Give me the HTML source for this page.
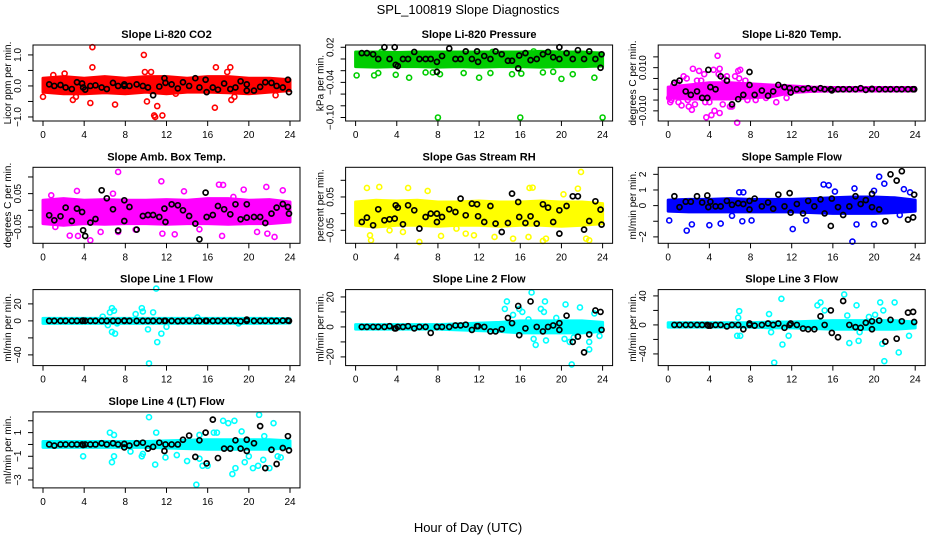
<!DOCTYPE html>
<html><head><meta charset="utf-8"><style>
body{margin:0;background:#fff}
svg{display:block;font-family:"Liberation Sans",sans-serif}
</style></head><body>
<svg id="chart" width="936" height="540" viewBox="0 0 936 540" xmlns="http://www.w3.org/2000/svg">
<rect x="0" y="0" width="936" height="540" fill="#fff"/>
<text x="468" y="14" text-anchor="middle" font-size="13">SPL_100819  Slope Diagnostics</text>
<text x="468" y="532" text-anchor="middle" font-size="13">Hour of Day (UTC)</text>
</svg>
<script>
const xTicks=[0,4,8,12,16,20,24];
const bandHours=[0,2,4,6,8,10,12,14,16,18,20,22,24];
const blackHours=[0.6,1.1,1.7,2.2,2.8,3.3,3.8,3.9,4.1,4.6,5.1,5.7,6.2,6.8,7.3,7.9,7.9,8.4,9.1,9.7,10.2,10.7,11.3,11.8,11.9,12.5,13.1,13.6,14.2,14.8,15.2,15.8,15.9,16.5,17.0,17.6,18.2,18.7,19.2,19.8,19.8,20.5,21.1,21.6,22.2,22.7,23.3,23.8,23.9];

const titles=["Slope Li-820 CO2","Slope Li-820 Pressure","Slope Li-820 Temp.","Slope Amb. Box Temp.","Slope Gas Stream RH","Slope Sample Flow","Slope Line 1 Flow","Slope Line 2 Flow","Slope Line 3 Flow","Slope Line 4 (LT) Flow"];
const yTitles=["Licor ppm per min.","kPa per min.","degrees C per min.","degrees C per min.","percent per min.","ml/min per min.","ml/min per min.","ml/min per min.","ml/min per min.","ml/min per min."];
const colors=["#ff0000","#00cd00","#ff00ff","#ff00ff","#ffff00","#0000ff","#00ffff","#00ffff","#00ffff","#00ffff"];
const yDomains=[[-1.13,1.32],[-0.106,0.0239],[-0.0147,0.0205],[-0.099,0.129],[-0.089,0.139],[-2.41,2.45],[-52.6,36.8],[-25.8,24.9],[-56.1,48.7],[-3.67,2.75]];
const yTickVals=[[-1,-0.5,0,0.5,1],[-0.1,-0.08,-0.06,-0.04,-0.02,0,0.02],[-0.01,-0.005,0,0.005,0.01,0.015],[-0.05,0,0.05,0.1],[-0.05,0,0.05,0.1],[-2,-1,0,1,2],[-40,-20,0,20],[-20,-10,0,10,20],[-40,-20,0,20,40],[-3,-2,-1,0,1,2]];
const yTickLabels=[["-1.0","","0.0","","1.0"],["-0.10","","","-0.04","","","0.02"],["-0.010","","","","0.010",""],["-0.05","","0.05",""],["-0.05","","0.05",""],["-2","","0","1","2"],["-40","","0","20"],["-20","","0","","20"],["-40","","0","","40"],["-3","","-1","","1",""]];

const bandLo=[
[-0.2,-0.25,-0.25,-0.22,-0.25,-0.2,-0.25,-0.2,-0.2,-0.22,-0.25,-0.2,-0.15],
[-0.013,-0.014,-0.013,-0.013,-0.014,-0.013,-0.014,-0.013,-0.013,-0.014,-0.013,-0.013,-0.012],
[-0.004,-0.0045,-0.0045,-0.0045,-0.004,-0.0035,-0.0015,-0.001,-0.0008,-0.0008,-0.0008,-0.0008,-0.0008],
[-0.04,-0.045,-0.04,-0.042,-0.04,-0.04,-0.042,-0.04,-0.04,-0.042,-0.04,-0.04,-0.035],
[-0.035,-0.04,-0.035,-0.035,-0.038,-0.035,-0.035,-0.038,-0.035,-0.035,-0.038,-0.035,-0.03],
[-0.35,-0.4,-0.4,-0.4,-0.4,-0.4,-0.4,-0.45,-0.5,-0.5,-0.5,-0.45,-0.35],
[-3,-3,-3,-3,-3,-3,-3,-3,-3,-3,-3,-3,-2.5],
[-1.5,-1.5,-1.5,-1.5,-1.5,-2,-2.5,-3,-4,-4,-4,-4,-3],
[-3,-3,-3,-3,-3,-4,-4,-5,-6,-6,-6,-6,-4],
[-0.25,-0.25,-0.25,-0.25,-0.25,-0.25,-0.3,-0.35,-0.4,-0.4,-0.4,-0.4,-0.3]];
const bandHi=[
[0.25,0.3,0.25,0.3,0.25,0.3,0.3,0.25,0.3,0.3,0.25,0.25,0.2],
[0.012,0.012,0.011,0.012,0.012,0.012,0.012,0.012,0.012,0.013,0.012,0.012,0.01],
[0.001,0.002,0.003,0.003,0.0025,0.002,0.0015,0.001,0.0008,0.0008,0.0008,0.0008,0.0008],
[0.03,0.035,0.03,0.032,0.03,0.03,0.032,0.03,0.035,0.035,0.03,0.032,0.025],
[0.035,0.04,0.038,0.04,0.035,0.035,0.038,0.035,0.035,0.038,0.035,0.035,0.03],
[0.35,0.4,0.4,0.45,0.4,0.4,0.4,0.45,0.5,0.55,0.55,0.5,0.35],
[3,3,3,3,3,3,3,3,3,3,3,3,2.5],
[1.5,1.5,1.5,1.5,1.5,2,2.5,3,4,4,4,4,3],
[3,3,3,3,3,4,4,5,6,6,6,6,4],
[0.25,0.25,0.25,0.25,0.25,0.25,0.3,0.35,0.4,0.4,0.4,0.4,0.3]];

const outX=[
[4.8,4.8,4.6,2.9,7.0,9.8,9.9,10.1,10.5,10.8,10.9,11.1,11.6,16.8,16.7,17.9,18.2,18.3,18.6,2.1,1.0,0,3.2,12.9,22.6],
[0.1,1.8,2.2,3.9,5.2,6.8,7.5,8.0,8.2,10.5,12.0,13.1,15.2,16.0,16.1,18.2,19.2,20.0,21.1,23.2,24.0,2.5,13.3,17.3],
[4.8,2.4,3.0,4.4,5.0,6.8,7.0,0.1,0.2,1.3,2.0,2.3,3.7,4.2,4.5,5.0,6.7,6.2,1.5,5.7,8.5,9.5,10.5,11.5,0.5,1.0,1.8,2.6,3.2,3.5,4.0,5.4,6.0,6.5,7.5,0.3,0.9,1.9,2.8,3.6,4.9,5.3,6.9,7.7],
[7.3,11.5,17.1,17.5,21.7,23.3,19.5,3.3,13.7,6.8,4.6,3.4,2.6,7.3,9.0,11.6,12.8,15.2,17.4,22.5,20.8,21.8,1.2,5.6,0.8,18.5],
[21.9,1.1,2.3,5.1,7.0,16.9,17.2,21.6,1.5,1.4,6.2,8.3,9.8,10.7,11.5,13.5,15.3,16.8,18.2,18.5,22.4,22.7,3.3,4.6,20.2],
[0.1,1.8,2.3,4.0,5.1,7.2,8.1,12.1,13.4,15.1,15.6,17.9,18.1,18.3,20.0,20.5,21.0,22.9,23.5,6.9,7.3,6.2,16.2,20.0,22.5],
[11.0,10.3,11.1,11.5,10.2,6.7,7.0,6.7,6.9,6.5,9.6,9.7,10.7,9.0,6.3,7.2,5.8,12.0,15.0,19.0],
[17.1,14.7,14.5,15.9,18.4,18.0,18.3,20.4,21.8,23.2,16.2,17.3,17.5,18.5,20.3,20.8,21.0,22.7,22.7,23.7,19.5,16.8,21.2,15.3],
[11.0,10.3,11.1,6.7,7.0,6.9,6.8,9.8,10.0,11.7,14.5,14.8,15.2,17.1,17.4,17.6,18.3,18.5,20.1,20.6,20.9,20.8,21.0,22.0,22.4,23.4,18.6,19.5],
[10.3,11.0,6.5,6.9,6.7,6.9,3.9,8.5,9.6,9.7,10.9,11.9,13.0,14.0,14.9,15.2,15.5,16.0,16.6,16.9,17.5,18.0,18.4,18.6,18.7,19.3,19.6,20.0,20.4,20.9,21.0,21.4,22.0,22.4,22.8,23.1,21.5,15.2]];
const outY=[
[1.25,0.6,-0.55,-0.45,-0.6,1.0,0.45,-0.5,0.45,-0.95,-1.0,-0.65,-0.95,0.6,-0.7,0.45,0.6,-0.45,-0.35,0.4,0.35,-0.35,-0.35,-0.25,-0.3],
[-0.028,-0.028,-0.024,-0.027,-0.032,-0.023,-0.023,-0.1,-0.026,-0.024,-0.032,-0.024,-0.026,-0.1,-0.025,-0.023,-0.022,-0.034,-0.026,-0.032,-0.1,0.012,0.012,0.013],
[0.0155,0.0095,0.0085,0.009,0.0095,0.0085,0.009,-0.004,-0.006,-0.0075,-0.008,-0.0095,-0.013,-0.012,-0.01,-0.011,-0.0155,-0.008,0.006,0.006,-0.005,-0.004,-0.006,-0.004,0.002,-0.006,0.005,-0.007,0.004,0.007,-0.006,0.005,-0.008,0.006,0.004,-0.005,0.003,-0.005,0.004,-0.006,0.007,-0.007,0.005,-0.005],
[0.115,0.087,0.077,0.076,0.07,0.06,0.062,0.058,0.057,0.05,-0.09,-0.077,-0.076,-0.065,-0.058,-0.07,-0.072,-0.057,-0.077,-0.08,-0.065,-0.07,-0.05,-0.065,0.045,0.04],
[0.125,0.077,0.08,0.077,0.068,0.077,0.078,0.075,-0.08,-0.065,-0.085,-0.067,-0.045,-0.06,-0.065,-0.07,-0.075,-0.07,-0.082,-0.075,-0.075,-0.08,-0.05,-0.055,0.058],
[-0.95,-1.6,-1.2,-1.25,-1.15,-1.0,-0.95,-1.5,-0.95,1.35,1.3,-2.3,1.1,-1.2,-1.2,1.85,1.4,1.05,0.85,0.85,0.85,-0.65,0.9,0.95,-0.6],
[38,-50,-25,-15,-10,-13,-15,15,12,10,15,11,10,8,-5,-3,5,-7,4,-3],
[23,17,12,12,17,12,10,15,13,9,10,-8,-12,-9,-8,-10,-25,-15,-10,-6,6,5,-7,8],
[36,-52,-27,-15,-15,19,10,15,-10,-15,27,31,20,42,13,-25,27,-22,14,31,20,-26,-50,31,-38,-15,-10,11],
[2.3,1.0,1.0,0.8,-1.5,-1.0,-1.0,-0.6,-1.0,-0.8,-1.7,-1.1,-0.9,-1.4,-3.4,-1.2,-1.8,-1.8,1.0,1.0,2.0,1.8,-2.5,2.0,-2.0,1.1,-1.5,-1.0,-2.0,-1.8,2.5,-1.3,-2.0,1.8,-1.0,-1.1,0.7,0.8]];

const blackVals=[
[0.05,0,0.03,-0.05,-0.1,0.12,0.08,-0.05,-0.12,0,0.02,-0.05,-0.1,0.1,0,0.05,0,0,0.05,0,-0.05,-0.3,-0.02,0.25,0.1,0.05,-0.08,0.12,0,0.25,-0.05,0.2,-0.2,-0.05,-0.12,0.08,-0.1,-0.05,0.15,0.05,-0.15,-0.15,-0.03,0.12,0.1,0,-0.05,0.2,-0.2],
[0.01,0.01,0.008,0,0.02,0,0.02,-0.01,-0.012,0,0,0.012,0,0,0,-0.005,-0.022,0.005,0.018,0,0,0.013,0,0.013,-0.005,0.005,0,0.013,0.008,-0.003,-0.003,-0.016,0.006,0.01,-0.002,0,0.008,0.012,0.003,0.02,0,0.01,0,0.015,0,0.013,0,-0.015,0.008],
[0.003,0.004,-0.001,-0.0026,-0.001,-0.004,-0.004,0.009,0.001,0,0.006,0.004,-0.007,-0.0046,-0.0026,0.008,0.002,-0.0026,-0.0006,-0.003,-0.001,0.002,0.001,0.0005,-0.0015,0,0,0.0005,0,0.0005,0,0,-0.0005,0,0,0,0,0.0005,-0.0003,0,0.0002,0,0,0,0,0,0,0,0],
[-0.015,-0.03,-0.018,0.008,-0.032,0.005,-0.005,-0.06,-0.077,-0.037,-0.026,0.06,0.036,0.003,-0.061,-0.032,0.03,0.01,-0.058,-0.017,-0.014,-0.014,-0.02,0.005,-0.035,0.018,0.015,0,-0.017,-0.04,-0.087,0.053,-0.02,-0.014,0.013,0.003,-0.012,0.018,-0.027,0.018,-0.022,-0.02,-0.02,-0.038,-0.01,0.008,0.019,0.01,-0.01],
[-0.025,-0.012,-0.035,0.013,-0.02,-0.017,-0.015,0.025,0.018,-0.032,0.025,0.01,-0.045,-0.01,0,0,-0.025,-0.01,0.013,0.005,0.045,-0.005,0.03,0.028,-0.008,-0.025,0.023,-0.03,-0.055,-0.028,0.06,0.035,-0.01,-0.028,-0.008,-0.03,0.028,0.018,-0.025,0.01,-0.06,0.023,0.052,0.052,-0.048,-0.022,0.037,0.012,-0.033],
[0.6,-0.1,0.25,0.25,0.6,0.2,0.65,-0.1,0.25,-0.05,-0.05,0.3,0.05,0.15,0.1,-0.25,0.3,0.45,-0.05,0.2,-0.2,0.7,-0.05,0.8,-0.45,0.1,-0.5,0.3,-0.05,0.4,-0.5,-1.3,0.45,-0.1,-0.6,-0.05,0.6,0.1,0.35,0.75,-0.1,-0.25,-1.0,2.0,1.6,2.2,-0.9,-0.75,0.7],
[0,0,0,0,0,0,0,0.3,0,0,0,0,0,0,0,0.3,0,0,0,0,0,0,0,0,0,0,-0.3,0,0,0,0,0,0,0,0,0,0,0,-0.5,1.5,0,0,0,0,0,0,0.3,0.5,0],
[0,0,0,0,0,0.5,-1,-1,0,0,0.5,-1,0,0,-4,0,0,0,0,1,1,1.5,-2,0.5,0.5,0,-3,-3,-1.5,6,2.5,14,-5.5,-1,17,0,-3,0,1,2.5,-2,7.5,-10,-6.5,-17,-5,11,10,-2],
[0,0,0,0,0,0,0,-1,-1,0,0,-2,0,0,-6,0,2,-1,0,2,0,2,-4,0,2,0,-5,-6,-6,12,0,20,-11,-17,33,0,-3,-4,3,5,-6,6,-23,7,-19,5,17,18,4],
[0,-0.1,0,0,0,0,0,-0.05,0,0,0,0.1,0,0.1,0,0.05,-0.25,-0.1,0.1,0.15,-0.35,-0.2,0.15,-0.55,0,0,0,0.4,0.75,-1.05,0.35,1.0,-1.6,2.1,-1.15,-0.35,-0.35,0.35,-0.35,0.4,-0.55,0.1,1.55,-2.0,-0.45,-1.65,-0.3,0.7,-0.5]];

const svg=document.getElementById('chart');
const NS='http://www.w3.org/2000/svg';
function mk(tag,attrs,parent){const e=document.createElementNS(NS,tag);for(const k in attrs)e.setAttribute(k,attrs[k]);(parent||svg).appendChild(e);return e;}

for(let p=0;p<10;p++){
  const col=p%3,row=Math.floor(p/3);
  const x0=43+312.6*col, pxh=247/24;
  const top=45+122.3*row, bot=top+76;
  const left=x0-10, right=x0+257;
  const [ymin,ymax]=yDomains[p];
  const xs=h=>x0+h*pxh;
  const ys=v=>bot-(v-ymin)/(ymax-ymin)*(bot-top);
  const g=mk('g',{});
  
  
  const t=mk('text',{x:(left+right)/2,y:top-7,'text-anchor':'middle','font-size':'11','font-weight':'bold'},g);
  t.textContent=titles[p];
  
  
  let pts=[];
  for(let i=0;i<bandHours.length;i++)pts.push(xs(bandHours[i])+','+ys(bandHi[p][i]));
  for(let i=bandHours.length-1;i>=0;i--)pts.push(xs(bandHours[i])+','+ys(bandLo[p][i]));
  const band=mk('polygon',{points:pts.join(' '),fill:colors[p],stroke:colors[p],'stroke-width':'3','stroke-linejoin':'round'},g);
  
  
  for(let i=0;i<Math.min(outX[p].length,outY[p].length);i++){
    const c=mk('circle',{cx:xs(outX[p][i]),cy:ys(outY[p][i]),r:2.5,fill:'none',stroke:colors[p],'stroke-width':'1.6'},g);
    
    
  }
  for(let i=0;i<Math.min(blackHours.length,blackVals[p].length);i++){
    const c=mk('circle',{cx:xs(blackHours[i]),cy:ys(blackVals[p][i]),r:2.5,fill:'none',stroke:'#000','stroke-width':'1.7'},g);
    
    
  }
  const b=mk('rect',{x:left,y:top,width:right-left,height:bot-top,fill:'none',stroke:'#000','stroke-width':'1'},g);
  
  
  for(const v of xTicks){
    mk('line',{x1:xs(v),x2:xs(v),y1:bot,y2:bot+5,stroke:'#000'},g);
    const l=mk('text',{x:xs(v),y:bot+17,'text-anchor':'middle','font-size':'10'},g);
    l.textContent=v;
    
    
  }
  yTickVals[p].forEach((v,i)=>{
    const y=ys(v);
    mk('line',{x1:left-5,x2:left,y1:y,y2:y,stroke:'#000'},g);
    const lab=yTickLabels[p][i];
    if(lab){
      const l=mk('text',{x:0,y:0,transform:'translate('+(left-12)+','+y+') rotate(-90)','text-anchor':'middle','font-size':'10'},g);
      l.textContent=lab.replace('-','\u2212');
      
      
    }
  });
  const yt=mk('text',{x:0,y:0,transform:'translate('+(left-22)+','+((top+bot)/2)+') rotate(-90)','text-anchor':'middle','font-size':'10'},g);
  yt.textContent=yTitles[p];
  
  
}
</script>
</body></html>
